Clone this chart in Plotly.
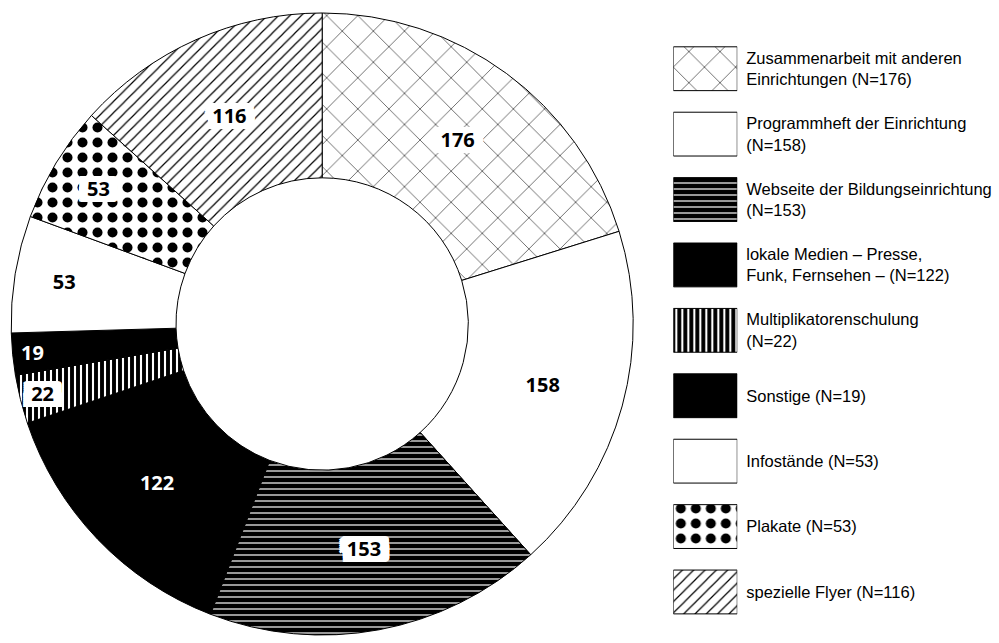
import plotly.graph_objects as go

# ---- data -------------------------------------------------------------
labels = [
    "Zusammenarbeit mit anderen<br>Einrichtungen (N=176)",
    "Programmheft der Einrichtung<br>(N=158)",
    "Webseite der Bildungseinrichtung<br>(N=153)",
    "lokale Medien – Presse,<br>Funk, Fernsehen – (N=122)",
    "Multiplikatorenschulung<br>(N=22)",
    "Sonstige (N=19)",
    "Infostände (N=53)",
    "Plakate (N=53)",
    "spezielle Flyer (N=116)",
]
values = [176, 158, 153, 122, 22, 19, 53, 53, 116]
legend_key = [1, 1, 1, 1, 1, 1, 1, 1, 1]

# ---- styles -------------------------------------------------------------
pat_shape = ["x", "", "-", "", "|", "", "", ".", "/"]
pat_bg = ["white", "white", "black", "black", "black", "black", "white", "white", "white"]
pat_fg = ["black", "black", "white", "black", "white", "black", "black", "black", "black"]
pat_size = [22, 8, 6, 8, 6, 8, 8, 15, 8]
pat_solid = [0.05, 0.3, 0.2, 0.3, 0.35, 0.3, 0.3, 0.35, 0.15]
text_colors = ["black", "black", "black", "white", "black", "white", "black", "black", "black"]
boxed = [True, False, True, False, True, False, False, True, True]

# white "box" behind label text via stacked text shadows
offs = [(dx, dy) for dx in range(-9, 10, 2) for dy in range(-6, 7, 2)]
box_shadow = ", ".join(f"{dx}px {dy}px 0px white" for dx, dy in offs)
shadows = [box_shadow if b else "none" for b in boxed]

legend_font = "Liberation Sans, Arial, sans-serif"

fig = go.Figure()

fig.add_trace(go.Pie(
    labels=labels,
    values=values,
    sort=False,
    direction="clockwise",
    rotation=0,
    hole=0.47,
    textinfo="value",
    textposition="inside",
    insidetextorientation="horizontal",
    textfont=dict(family="Open Sans, sans-serif", size=20, color=text_colors,
                  weight="bold", shadow=shadows),
    marker=dict(
        colors=pat_bg,
        line=dict(color="black", width=1),
        pattern=dict(shape=pat_shape, fgcolor=pat_fg, bgcolor=pat_bg,
                     size=pat_size, solidity=pat_solid, fillmode="replace"),
    ),
    domain=dict(x=[0.011, 0.634], y=[0.0124, 0.9798]),
    showlegend=False,
    hoverinfo="label+value",
))

# legend drawn as key boxes with labels (one trace per entry)
for i, lab in enumerate(labels):
    pat = dict(shape=pat_shape[i], fgcolor=pat_fg[i], bgcolor=pat_bg[i],
               size=pat_size[i], solidity=pat_solid[i], fillmode="replace")
    fig.add_trace(go.Bar(
        x=[legend_key[i]],
        y=[lab],
        orientation="h",
        marker=dict(color=pat_bg[i], line=dict(color="black", width=1), pattern=pat),
        showlegend=False,
        hoverinfo="skip",
    ))

fig.update_layout(
    width=999, height=643,
    margin=dict(l=0, r=0, t=0, b=0),
    paper_bgcolor="white",
    plot_bgcolor="white",
    barmode="overlay",
    bargap=0.33,
    xaxis=dict(domain=[0.674, 0.738], range=[0, 1], visible=False, fixedrange=True),
    yaxis=dict(domain=[0.0285, 0.944], type="category", categoryorder="array",
               categoryarray=labels, autorange="reversed",
               side="right", anchor="x", showline=False, showgrid=False, zeroline=False,
               ticks="", ticklabelstandoff=8,
               tickfont=dict(family=legend_font, size=16.5, color="black")),
)

fig.write_html("out.html", config={"displayModeBar": False},
               post_script="document.body.style.margin='0';")
